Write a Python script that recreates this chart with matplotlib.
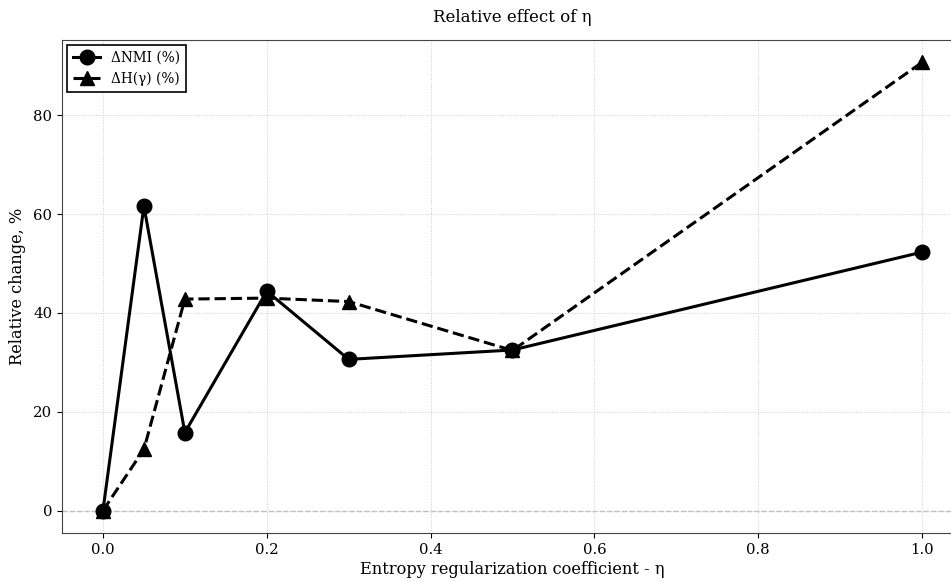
import numpy as np
import matplotlib
matplotlib.use("Agg")
import matplotlib.pyplot as plt

# entropy regularization coefficient values
eta = [0.0, 0.05, 0.1, 0.2, 0.3, 0.5, 1.0]
# relative change (%)
d_nmi = [0.0, 61.6, 15.8, 44.4, 30.6, 32.5, 52.3]
d_h = [0.0, 12.4, 42.8, 43.0, 42.3, 32.4, 90.7]

plt.rcParams['font.family'] = ['DejaVu Serif']

fig = plt.figure(figsize=(9.51, 5.82), dpi=100)
ax = fig.add_axes([0.0652, 0.0842, 0.9474, 0.8471])

ax.plot(eta, d_nmi, '-o', color='black', linewidth=2.2, markersize=10.5, label='ΔNMI (%)')
ax.plot(eta, d_h, '--^', color='black', linewidth=2.2, markersize=10.5, label='ΔH(γ) (%)')
ax.axhline(0, color='#bbbbbb', linestyle='--', linewidth=1, zorder=0)

ax.grid(True, linestyle=':', linewidth=0.7, color='#cccccc')
ax.set_axisbelow(True)
ax.set_title('Relative effect of η', fontsize=12, pad=13)
ax.set_xlabel('Entropy regularization coefficient - η', fontsize=11.7, labelpad=3)
ax.set_ylabel('Relative change, %', fontsize=11.7, labelpad=5)
ax.tick_params(labelsize=10.7)
for sp in ax.spines.values():
    sp.set_color('#444444')

leg = ax.legend(loc='upper left', fontsize=9.8, fancybox=False, edgecolor='black',
                framealpha=1, borderaxespad=0.4)
leg.get_frame().set_linewidth(1.2)

fig.savefig('out.png', dpi=100)
plt.close()
